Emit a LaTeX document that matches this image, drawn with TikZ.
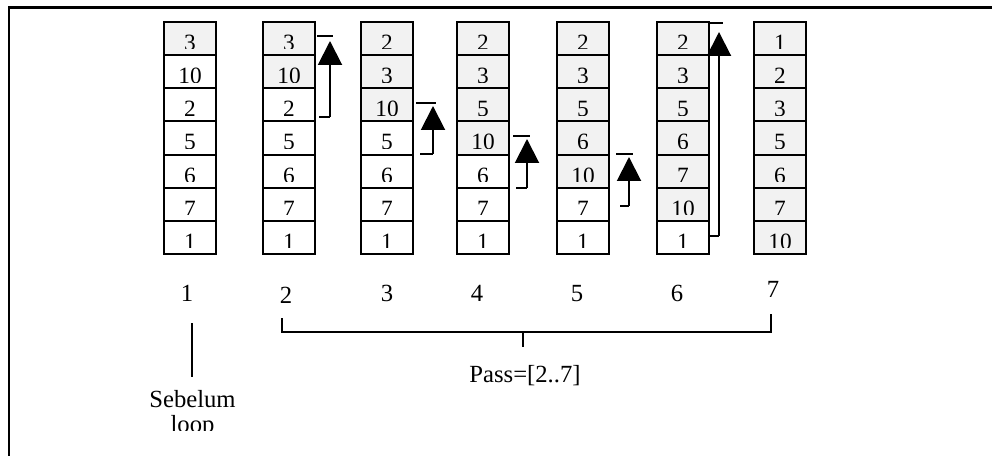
\documentclass[tikz,border=0pt]{standalone}
\usepackage{fontspec}
\setmainfont{Liberation Serif}
\usetikzlibrary{arrows.meta}
\definecolor{cellgray}{HTML}{F2F2F2}
\begin{document}
\begin{tikzpicture}[x=0.75pt,y=-0.75pt,
  cell/.style={draw=black,line width=1.5pt,minimum width=39pt,minimum height=24.86pt,
    inner sep=0pt,outer sep=0pt,anchor=north west},
  celltext/.style={font=\fontsize{17.5}{20}\selectfont,anchor=base,inner sep=0pt},
  lbl/.style={font=\fontsize{18.5}{25}\selectfont,anchor=base,inner sep=0pt},
  ln/.style={line width=1.5pt},
  framel/.style={line width=2pt},
  swaparrow/.style={line width=1.5pt,-{Triangle[width=18pt,length=18pt]}}]
\useasboundingbox (0,0) rectangle (992,456);
% frame
\coordinate (fbl) at (9,458);
\coordinate (ftl) at (9,7.5);
\coordinate (ftr) at (995,7.5);
\draw[framel] (fbl) -- (ftl) -- (ftr);
% columns
\foreach \c/\x/\vals in {1/164/{3,10,2,5,6,7,1},2/263/{3,10,2,5,6,7,1},3/361/{2,3,10,5,6,7,1},
  4/457/{2,3,5,10,6,7,1},5/557/{2,3,5,6,10,7,1},6/657/{2,3,5,6,7,10,1},7/754/{1,2,3,5,6,7,10}}{
  \foreach \v [count=\r] in \vals {
    \pgfmathsetmacro\yt{22+(\r-1)*33.14}
    \ifnum\r>\c \def\fc{white}\else\def\fc{cellgray}\fi
    \node[cell,fill=\fc] (c\c-\r) at (\x,\yt) {};
    \begin{scope}
      \clip (\x,\yt) rectangle (\x+52,\yt+27);
      \node[celltext] (t\c-\r) at (\x+26,\yt+28.5) {\v};
    \end{scope}
  }
}
% swap arrows
\foreach \i/\xv/\yb/\ya/\xbl/\ybar/\xl/\xr in {2/330/117/41/319/36/317/333,
  3/433/154/106/420/103/416/436, 4/527/188/139/516/136/513/530,
  5/629/206/157/620/154/616/633, 6/719/236/32/709/23/709/723}{
  \coordinate (ab\i) at (\xbl,\yb);
  \coordinate (av\i) at (\xv,\yb);
  \coordinate (at\i) at (\xv,\ya);
  \coordinate (al\i) at (\xl,\ybar);
  \coordinate (ar\i) at (\xr,\ybar);
  \draw[ln] (ab\i) -- (av\i);
  \draw[swaparrow] (av\i) -- (at\i);
  \draw[ln] (al\i) -- (ar\i);
}
% step labels
\node[lbl] (n1) at (187,301) {1};
\node[lbl] (n2) at (286,303) {2};
\node[lbl] (n3) at (387,301) {3};
\node[lbl] (n4) at (477,301) {4};
\node[lbl] (n5) at (577,301) {5};
\node[lbl] (n6) at (677,301) {6};
\node[lbl] (n7) at (773,297) {7};
% before loop
\coordinate (s1) at (192,323);
\coordinate (s2) at (192,377);
\draw[ln] (s1) -- (s2);
\node[lbl] (seb) at (192.5,407) {Sebelum};
\begin{scope}
  \clip (100,410) rectangle (300,430);
  \node[lbl] (loop) at (192.5,432) {loop};
\end{scope}
% pass bracket
\coordinate (bl1) at (282,318);
\coordinate (bl2) at (282,332);
\coordinate (br2) at (771,332);
\coordinate (br1) at (771,314);
\coordinate (bm1) at (523,331);
\coordinate (bm2) at (523,347);
\draw[ln] (bl1) -- (bl2) -- (br2) -- (br1);
\draw[ln] (bm1) -- (bm2);
\node[lbl] (pass) at (525,382) {Pass=[2..7]};
\end{tikzpicture}
\end{document}
